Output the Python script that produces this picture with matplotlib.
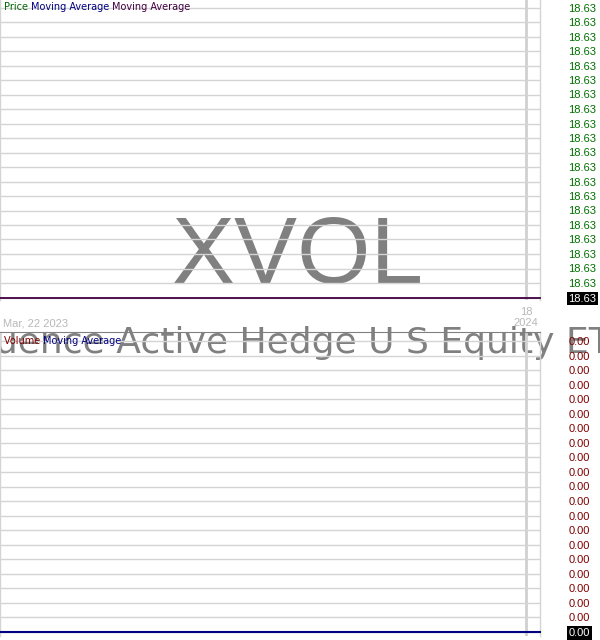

# XVOL price / volume panel chart
import numpy as np
import datetime as dt
import matplotlib
matplotlib.use("Agg")
import matplotlib.pyplot as plt
import matplotlib.dates as mdates
from matplotlib.transforms import blended_transform_factory

# data
dates = [dt.datetime(2023, 3, 22), dt.datetime(2024, 1, 26)]
price = [18.63, 18.63]
volume = [0.0, 0.0]
mark_date = dt.datetime(2024, 1, 18)
first_label = "Mar, 22 2023"
mark_label = "18\n2024"
ticker = "XVOL"
fund_name = "Acruence Active Hedge U S Equity ETF"
price_legend = [("Price ", "#006400"), ("Moving Average ", "#000080"), ("Moving Average", "#400040")]
vol_legend = [("Volume ", "#800000"), ("Moving Average", "#000080")]
price_step = 0.0002	# tick spacing, all round to 18.63
vol_step = 0.0001	# all round to 0.00
nticks = 21

W, H = 600, 640
fig = plt.figure(figsize=(W/100, H/100), dpi=100)
fig.patch.set_facecolor("white")

def box(l, t, r, b):
	# pixel box -> figure fraction
	return [l/W, 1 - b/H, (r - l)/W, (b - t)/H]

grid_col = "#d4d4d4"
tick_font = "Liberation Sans"

def setup_panel(ax, v0, step, top_px, bot_px, base_px, spacing, col):
	ax.patch.set_alpha(0)
	ticks = [v0 + step*k for k in range(nticks)]
	ax.set_ylim(v0 - step*(bot_px - base_px)/spacing, v0 + step*(base_px - top_px)/spacing)
	ax.set_yticks(ticks)
	ax.yaxis.set_major_formatter(matplotlib.ticker.FormatStrFormatter("%.2f"))
	ax.yaxis.tick_right()
	ax.tick_params(axis="y", length=0, pad=20.5, labelsize=8, labelcolor=col)
	for lb in ax.get_yticklabels():
		lb.set_fontfamily(tick_font)
	ax.set_xticks([])
	ax.grid(True, axis="y", color=grid_col, lw=1)
	ax.axvline(mark_date, color="#d0d0d0", lw=2, zorder=1)
	ax.set_xlim(dates[0], dates[1])
	for s in ["top", "bottom"]:
		ax.spines[s].set_visible(False)
	for s in ["left", "right"]:
		ax.spines[s].set_color(grid_col)
		ax.spines[s].set_linewidth(1)

# price panel
ax1 = fig.add_axes(box(0, 0, 540, 300))
setup_panel(ax1, price[0], price_step, 0, 300, 297.5, 14.5, "#006f00")
ax1.plot(dates, price, color="#400040", lw=1.3, zorder=3, clip_on=False)

# volume panel
ax2 = fig.add_axes(box(0, 332, 540, 636))
setup_panel(ax2, volume[0], vol_step, 332, 636, 632, 14.55, "#800000")
ax2.spines["top"].set_visible(True)
ax2.spines["top"].set_color("#808080")
ax2.plot(dates, volume, color="#000080", lw=1.5, zorder=3, clip_on=False)

# highlight last value labels
fig.canvas.draw()
for ax in [ax1, ax2]:
	lb = ax.get_yticklabels()[0]
	lb.set_color("white")
	lb.set_bbox(dict(facecolor="black", edgecolor="none", pad=1.2))

# watermarks behind the grid
fig.text(298/W, 1 - 283/H, ticker, fontsize=68, color="#808080", ha="center", va="baseline",
	family="Liberation Sans", zorder=-1)
fig.text(-64/W, 1 - 353/H, fund_name, fontsize=26, color="#808080", ha="left", va="baseline",
	family="DejaVu Sans", zorder=-1)

# legends, coloured word by word
renderer = fig.canvas.get_renderer()
def color_words(parts, x_px, y_px):
	x = x_px/W
	for txt, col in parts:
		t = fig.text(x, 1 - y_px/H, txt, fontsize=7, color=col, family="DejaVu Sans", va="center", ha="left")
		bb = t.get_window_extent(renderer)
		x = bb.x1/W
color_words(price_legend, 4, 7)
color_words(vol_legend, 4, 341)

# date labels
trans = blended_transform_factory(ax1.transData, fig.transFigure)
fig.text(3/W, 1 - 324/H, first_label, fontsize=8, color="#b8b8b8", family=tick_font, va="center", ha="left")
ax1.text(mark_date, 1 - 317.5/H, mark_label, transform=trans, fontsize=8, color="#b8b8b8",
	family=tick_font, va="center", ha="center", linespacing=1.2, clip_on=False)

fig.savefig("out.png", dpi=100)
